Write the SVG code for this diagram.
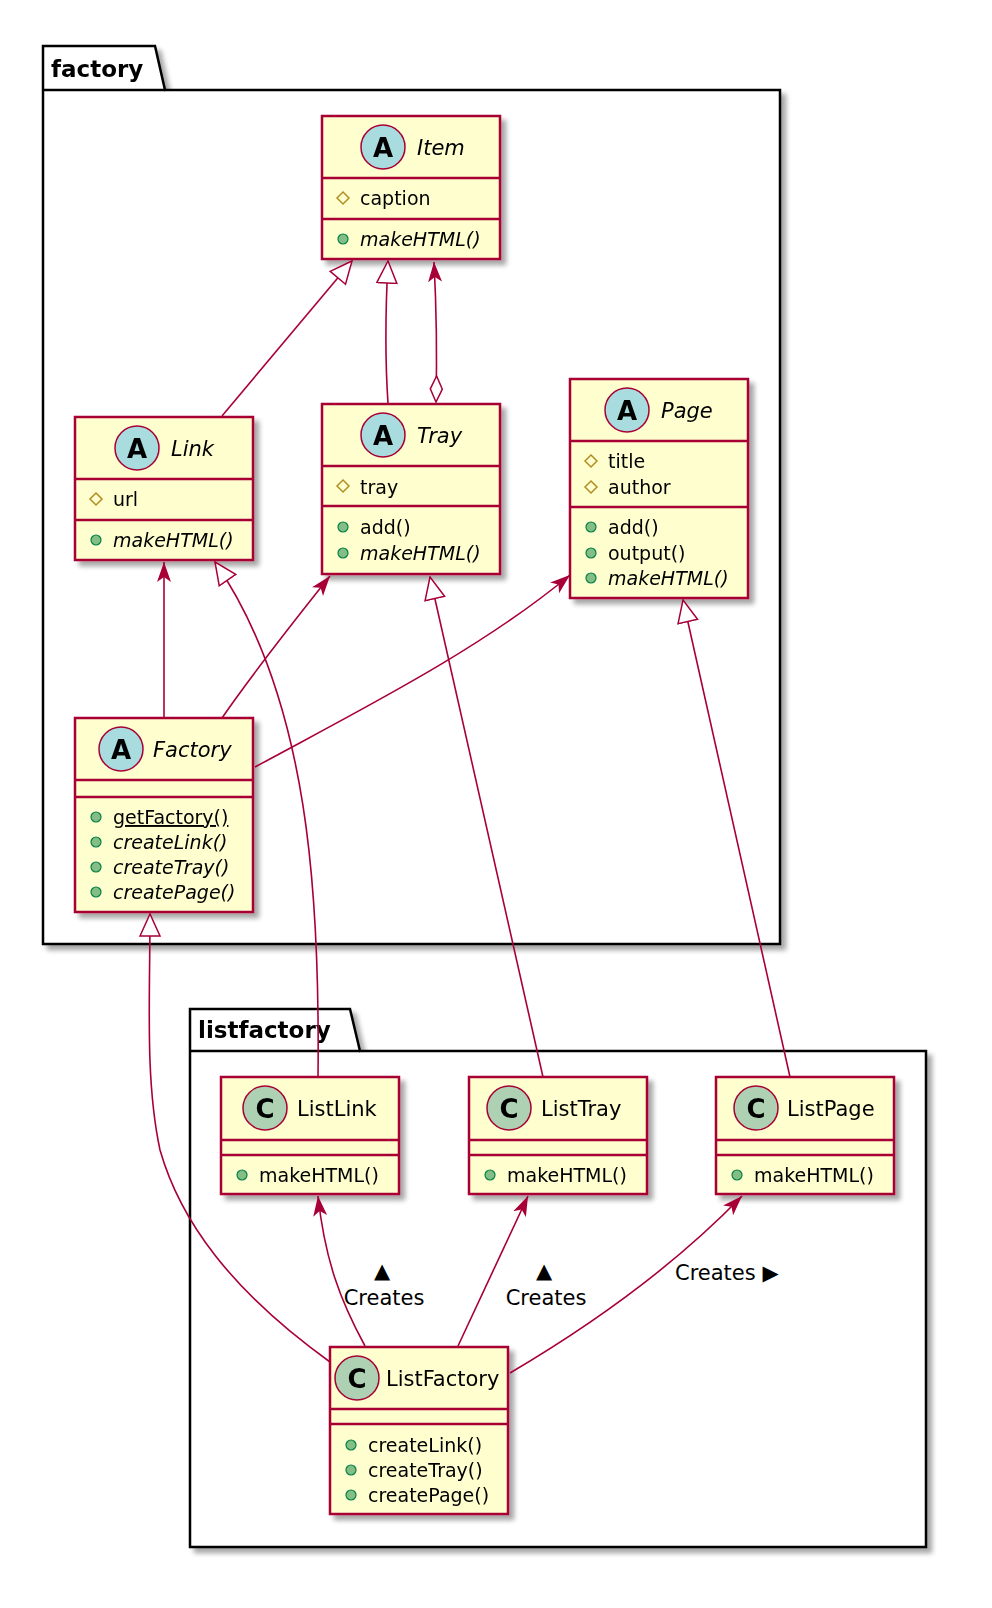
<svg xmlns="http://www.w3.org/2000/svg" width="992" height="1608" viewBox="0 0 992 1608">
<defs>
<filter id="sh" x="-10%" y="-10%" width="130%" height="130%"><feGaussianBlur in="SourceAlpha" stdDeviation="2.5"/><feOffset dx="5" dy="5"/><feComponentTransfer><feFuncA type="linear" slope="0.35"/></feComponentTransfer><feMerge><feMergeNode/><feMergeNode in="SourceGraphic"/></feMerge></filter>
<marker id="arr" viewBox="0 0 20 16" refX="20" refY="8" markerWidth="20" markerHeight="16" markerUnits="userSpaceOnUse" orient="auto"><path d="M0,1 L20,8 L0,15 L5,8 Z" fill="#A80036"/></marker>
<marker id="tri" viewBox="0 0 24 24" refX="23" refY="12" markerWidth="24" markerHeight="24" markerUnits="userSpaceOnUse" orient="auto"><path d="M1,2 L23,12 L1,22 Z" fill="#fff" stroke="#A80036" stroke-width="1.5"/></marker>
<marker id="dia" viewBox="0 0 28 14" refX="1" refY="7" markerWidth="28" markerHeight="14" markerUnits="userSpaceOnUse" orient="auto"><path d="M1,7 L14,1 L27,7 L14,13 Z" fill="#fff" stroke="#A80036" stroke-width="1.5"/></marker>
</defs>
<style>
text{font-family:"DejaVu Sans","Open Sans",sans-serif;fill:#000}
.pk{fill:#fff;stroke:#000;stroke-width:2.5}
.pt{font-weight:bold;font-size:23px}
.box{fill:#FEFECE;stroke:#A80036;stroke-width:2.5}
.sep{stroke:#A80036;stroke-width:2.5}
.ci{stroke:#A80036;stroke-width:1.5}
.ca{fill:#A9DCDF}
.cc{fill:#ADD1B2}
.cl{font-weight:bold;font-size:26px;text-anchor:middle}
.nm{font-size:21px}
.it{font-style:italic}
.m{font-size:19px}
.pub{fill:#84BE84;stroke:#038048;stroke-width:1.2}
.pro{fill:none;stroke:#B38D22;stroke-width:1.5}
.ln{fill:none;stroke:#A80036;stroke-width:1.6}
.lb{font-size:21px}
</style>
<g id="pkg-factory" filter="url(#sh)">
<path class="pk" d="M43,46 L155,46 L165,90 L780,90 L780,944 L43,944 Z"/>
<line x1="43" y1="90" x2="165" y2="90" stroke="#000" stroke-width="2.5"/>
<text class="pt" x="51" y="77">factory</text>
</g>
<g id="pkg-listfactory" filter="url(#sh)">
<path class="pk" d="M190,1009 L350,1009 L360,1051 L926,1051 L926,1547 L190,1547 Z"/>
<line x1="190" y1="1051" x2="360" y2="1051" stroke="#000" stroke-width="2.5"/>
<text class="pt" x="198" y="1038">listfactory</text>
</g>

<g id="Item" filter="url(#sh)">
<rect class="box" x="322" y="116" width="178" height="143"/>
<line class="sep" x1="322" y1="178" x2="500" y2="178"/><line class="sep" x1="322" y1="219" x2="500" y2="219"/>
<circle class="ci ca" cx="383" cy="147" r="22"/><text class="cl" x="383" y="157">A</text>
<text class="nm it" x="417" y="155">Item</text>
<path class="pro" d="M343,192 L349,198 L343,204 L337,198 Z"/><text class="m" x="360" y="205">caption</text>
<circle class="pub" cx="343" cy="239" r="5"/><text class="m it" x="360" y="246">makeHTML()</text>
</g>

<g id="Link" filter="url(#sh)">
<rect class="box" x="75" y="417" width="178" height="143"/>
<line class="sep" x1="75" y1="479" x2="253" y2="479"/><line class="sep" x1="75" y1="520" x2="253" y2="520"/>
<circle class="ci ca" cx="137" cy="448" r="22"/><text class="cl" x="137" y="458">A</text>
<text class="nm it" x="171" y="456">Link</text>
<path class="pro" d="M96,493 L102,499 L96,505 L90,499 Z"/><text class="m" x="113" y="506">url</text>
<circle class="pub" cx="96" cy="540" r="5"/><text class="m it" x="113" y="547">makeHTML()</text>
</g>

<g id="Tray" filter="url(#sh)">
<rect class="box" x="322" y="404" width="178" height="170"/>
<line class="sep" x1="322" y1="466" x2="500" y2="466"/><line class="sep" x1="322" y1="506" x2="500" y2="506"/>
<circle class="ci ca" cx="383" cy="435" r="22"/><text class="cl" x="383" y="445">A</text>
<text class="nm it" x="417" y="443">Tray</text>
<path class="pro" d="M343,480 L349,486 L343,492 L337,486 Z"/><text class="m" x="360" y="494">tray</text>
<circle class="pub" cx="343" cy="527" r="5"/><text class="m" x="360" y="534">add()</text>
<circle class="pub" cx="343" cy="553" r="5"/><text class="m it" x="360" y="560">makeHTML()</text>
</g>

<g id="Page" filter="url(#sh)">
<rect class="box" x="570" y="379" width="178" height="219"/>
<line class="sep" x1="570" y1="441" x2="748" y2="441"/><line class="sep" x1="570" y1="507" x2="748" y2="507"/>
<circle class="ci ca" cx="627" cy="410" r="22"/><text class="cl" x="627" y="420">A</text>
<text class="nm it" x="661" y="418">Page</text>
<path class="pro" d="M591,455 L597,461 L591,467 L585,461 Z"/><text class="m" x="608" y="468">title</text>
<path class="pro" d="M591,481 L597,487 L591,493 L585,487 Z"/><text class="m" x="608" y="494">author</text>
<circle class="pub" cx="591" cy="527" r="5"/><text class="m" x="608" y="534">add()</text>
<circle class="pub" cx="591" cy="553" r="5"/><text class="m" x="608" y="560">output()</text>
<circle class="pub" cx="591" cy="578" r="5"/><text class="m it" x="608" y="585">makeHTML()</text>
</g>

<g id="Factory" filter="url(#sh)">
<rect class="box" x="75" y="718" width="178" height="194"/>
<line class="sep" x1="75" y1="780" x2="253" y2="780"/><line class="sep" x1="75" y1="797" x2="253" y2="797"/>
<circle class="ci ca" cx="121" cy="749" r="22"/><text class="cl" x="121" y="759">A</text>
<text class="nm it" x="153" y="757">Factory</text>
<circle class="pub" cx="96" cy="817" r="5"/><text class="m" x="113" y="824" text-decoration="underline">getFactory()</text>
<circle class="pub" cx="96" cy="842" r="5"/><text class="m it" x="113" y="849">createLink()</text>
<circle class="pub" cx="96" cy="867" r="5"/><text class="m it" x="113" y="874">createTray()</text>
<circle class="pub" cx="96" cy="892" r="5"/><text class="m it" x="113" y="899">createPage()</text>
</g>

<g id="ListLink" filter="url(#sh)">
<rect class="box" x="221" y="1077" width="178" height="117"/>
<line class="sep" x1="221" y1="1140" x2="399" y2="1140"/><line class="sep" x1="221" y1="1155" x2="399" y2="1155"/>
<circle class="ci cc" cx="265" cy="1108" r="22"/><text class="cl" x="265" y="1118">C</text>
<text class="nm" x="297" y="1116">ListLink</text>
<circle class="pub" cx="242" cy="1175" r="5"/><text class="m" x="259" y="1182">makeHTML()</text>
</g>

<g id="ListTray" filter="url(#sh)">
<rect class="box" x="469" y="1077" width="178" height="117"/>
<line class="sep" x1="469" y1="1140" x2="647" y2="1140"/><line class="sep" x1="469" y1="1155" x2="647" y2="1155"/>
<circle class="ci cc" cx="509" cy="1108" r="22"/><text class="cl" x="509" y="1118">C</text>
<text class="nm" x="541" y="1116">ListTray</text>
<circle class="pub" cx="490" cy="1175" r="5"/><text class="m" x="507" y="1182">makeHTML()</text>
</g>

<g id="ListPage" filter="url(#sh)">
<rect class="box" x="716" y="1077" width="178" height="117"/>
<line class="sep" x1="716" y1="1140" x2="894" y2="1140"/><line class="sep" x1="716" y1="1155" x2="894" y2="1155"/>
<circle class="ci cc" cx="756" cy="1108" r="22"/><text class="cl" x="756" y="1118">C</text>
<text class="nm" x="787" y="1116">ListPage</text>
<circle class="pub" cx="737" cy="1175" r="5"/><text class="m" x="754" y="1182">makeHTML()</text>
</g>

<g id="ListFactory" filter="url(#sh)">
<rect class="box" x="330" y="1347" width="178" height="167"/>
<line class="sep" x1="330" y1="1409" x2="508" y2="1409"/><line class="sep" x1="330" y1="1424" x2="508" y2="1424"/>
<circle class="ci cc" cx="357" cy="1378" r="22"/><text class="cl" x="357" y="1388">C</text>
<text class="nm" x="386" y="1386">ListFactory</text>
<circle class="pub" cx="351" cy="1445" r="5"/><text class="m" x="368" y="1452">createLink()</text>
<circle class="pub" cx="351" cy="1470" r="5"/><text class="m" x="368" y="1477">createTray()</text>
<circle class="pub" cx="351" cy="1495" r="5"/><text class="m" x="368" y="1502">createPage()</text>
</g>

<g id="connectors">
<path class="ln" d="M222,416 L352,261" marker-end="url(#tri)"/>
<path class="ln" d="M388,403 C385,360 386,300 388,261" marker-end="url(#tri)"/>
<path class="ln" d="M436,402 C437,360 436,300 434,262" marker-start="url(#dia)" marker-end="url(#arr)"/>
<path class="ln" d="M164,718 L164,562" marker-end="url(#arr)"/>
<path class="ln" d="M222,718 C255,670 295,620 330,576" marker-end="url(#arr)"/>
<path class="ln" d="M255,767 C360,710 480,650 570,575" marker-end="url(#arr)"/>
<path class="ln" d="M318,1077 C320,900 310,700 215,562" marker-end="url(#tri)"/>
<path class="ln" d="M543,1077 L430,577" marker-end="url(#tri)"/>
<path class="ln" d="M790,1077 L683,600" marker-end="url(#tri)"/>
<path class="ln" d="M330,1362 C230,1290 180,1220 160,1150 C145,1080 150,1000 150,914" marker-end="url(#tri)"/>
<path class="ln" d="M365,1346 C340,1300 325,1260 318,1196" marker-end="url(#arr)"/>
<path class="ln" d="M458,1346 L528,1196" marker-end="url(#arr)"/>
<path class="ln" d="M510,1373 C600,1320 680,1260 742,1196" marker-end="url(#arr)"/>
<text class="lb" x="382" y="1278" text-anchor="middle" font-size="18">▲</text>
<text class="lb" x="384" y="1305" text-anchor="middle">Creates</text>
<text class="lb" x="544" y="1278" text-anchor="middle" font-size="18">▲</text>
<text class="lb" x="546" y="1305" text-anchor="middle">Creates</text>
<text class="lb" x="675" y="1280">Creates ▶</text>
</g>
</svg>
